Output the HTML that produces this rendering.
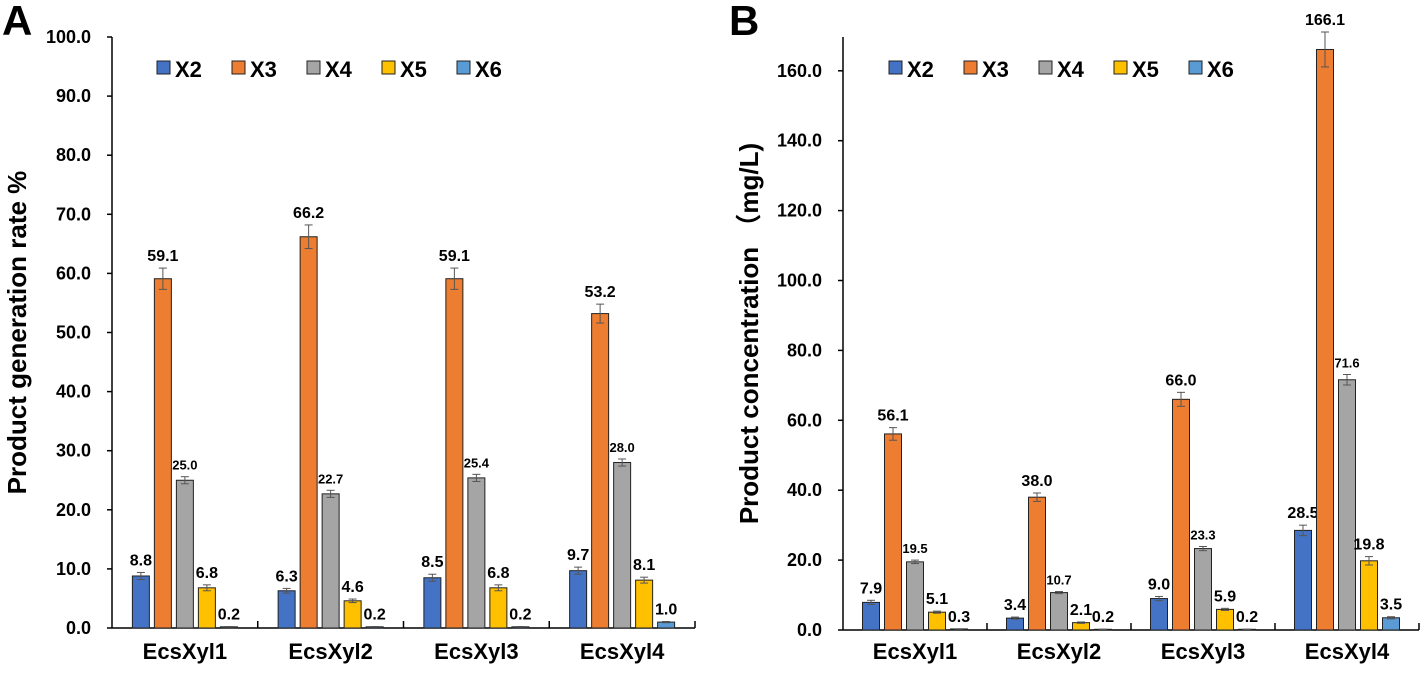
<!DOCTYPE html>
<html><head><meta charset="utf-8"><style>
body{margin:0;background:#fff}
svg text{font-family:"Liberation Sans","Noto Sans CJK SC",sans-serif;font-weight:bold}
</style></head><body>
<svg id="s" width="1422" height="673" xmlns="http://www.w3.org/2000/svg"></svg>
<script>
const categories=["EcsXyl1","EcsXyl2","EcsXyl3","EcsXyl4"];
const seriesNames=["X2","X3","X4","X5","X6"];
const colors=["#4472C4","#ED7D31","#A5A5A5","#FFC000","#5B9BD5"];
const rateX2=[8.8,6.3,8.5,9.7];
const rateX3=[59.1,66.2,59.1,53.2];
const rateX4=[25.0,22.7,25.4,28.0];
const rateX5=[6.8,4.6,6.8,8.1];
const rateX6=[0.2,0.2,0.2,1.0];
const rateErr=[[0.6,0.4,0.6,0.6],[1.8,2.0,1.8,1.6],[0.6,0.6,0.6,0.6],[0.5,0.3,0.5,0.5],[0.05,0.05,0.05,0.1]];
const concX2=[7.9,3.4,9.0,28.5];
const concX3=[56.1,38.0,66.0,166.1];
const concX4=[19.5,10.7,23.3,71.6];
const concX5=[5.1,2.1,5.9,19.8];
const concX6=[0.3,0.2,0.2,3.5];
const concErr=[[0.6,0.3,0.6,1.5],[1.8,1.2,2.0,5.0],[0.5,0.3,0.6,1.5],[0.3,0.2,0.3,1.2],[0.05,0.05,0.05,0.3]];
const ticksA=[0,10,20,30,40,50,60,70,80,90,100];
const ticksB=[0,20,40,60,80,100,120,140,160];
const NS="http://www.w3.org/2000/svg";
const svg=document.getElementById('s');
function el(t,a,txt){const e=document.createElementNS(NS,t);for(const k in a)e.setAttribute(k,a[k]);if(txt!==undefined)e.textContent=txt;svg.appendChild(e);return e;}
function panel(p){
  const y=v=>p.y0-(v-0)*p.sc;
  let e=el('line',{x1:p.x0,y1:p.top,x2:p.x0,y2:p.y0,stroke:'#000','stroke-width':1.5});
  
  e=el('line',{x1:p.x0,y1:p.y0,x2:p.x1,y2:p.y0,stroke:'#000','stroke-width':1.5});
  
  p.ticks.forEach(t=>{
    el('line',{x1:p.x0-5,y1:y(t),x2:p.x0,y2:y(t),stroke:'#000','stroke-width':1.5});
    e=el('text',{x:p.x0-21,y:y(t)+6,'text-anchor':'end','font-size':18},t.toFixed(1));
    
  });
  const gw=(p.x1-p.x0)/categories.length;
  for(let i=1;i<=categories.length;i++)el('line',{x1:p.x0+gw*i,y1:p.y0,x2:p.x0+gw*i,y2:p.y0-7,stroke:'#000','stroke-width':1.5});
  categories.forEach((c,i)=>{
    const cx=p.x0+gw*(i+0.5);
    e=el('text',{x:cx,y:659,'text-anchor':'middle','font-size':22},c);
    
    p.series.forEach((s,j)=>{
      const v=s[i],bx=cx-55+j*22+2.5,top=y(v);
      e=el('rect',{x:bx,y:top,width:17,height:p.y0-top,fill:colors[j],stroke:'#222','stroke-width':1});
      
      const er=p.err[j][i]*p.sc,mx=bx+8.5;
      el('line',{x1:mx,y1:top-er,x2:mx,y2:top+er,stroke:'#555','stroke-width':1});
      el('line',{x1:mx-4,y1:top-er,x2:mx+4,y2:top-er,stroke:'#555','stroke-width':1});
      el('line',{x1:mx-4,y1:top+er,x2:mx+4,y2:top+er,stroke:'#555','stroke-width':1});
      e=el('text',{x:mx,y:top-er-7,'text-anchor':'middle','font-size':j==2?13:16},v.toFixed(1));
      
    });
  });
  seriesNames.forEach((n,j)=>{
    const lx=p.lx+j*75;
    e=el('rect',{x:lx,y:61,width:13,height:13,fill:colors[j],stroke:'#222','stroke-width':1});
    
    e=el('text',{x:lx+18,y:77,'font-size':22},n);
    
  });
  e=el('text',{x:0,y:0,'font-size':26,'text-anchor':'middle',transform:`translate(${p.tx},${(p.top+p.y0)/2}) rotate(-90)`},p.title);
  
  e=el('text',{x:p.lbx,y:35,'font-size':42},p.letter);
  
}
panel({id:'a',x0:112,x1:695,y0:628,top:37,sc:5.91,ticks:ticksA,series:[rateX2,rateX3,rateX4,rateX5,rateX6],err:rateErr,lx:157,tx:26,title:'Product generation rate %',letter:'A',lbx:2});
panel({id:'b',x0:843,x1:1419,y0:630,top:37,sc:3.495,ticks:ticksB,series:[concX2,concX3,concX4,concX5,concX6],err:concErr,lx:889,tx:758,title:'Product concentration （mg/L)',letter:'B',lbx:729});
</script>
</body></html>
